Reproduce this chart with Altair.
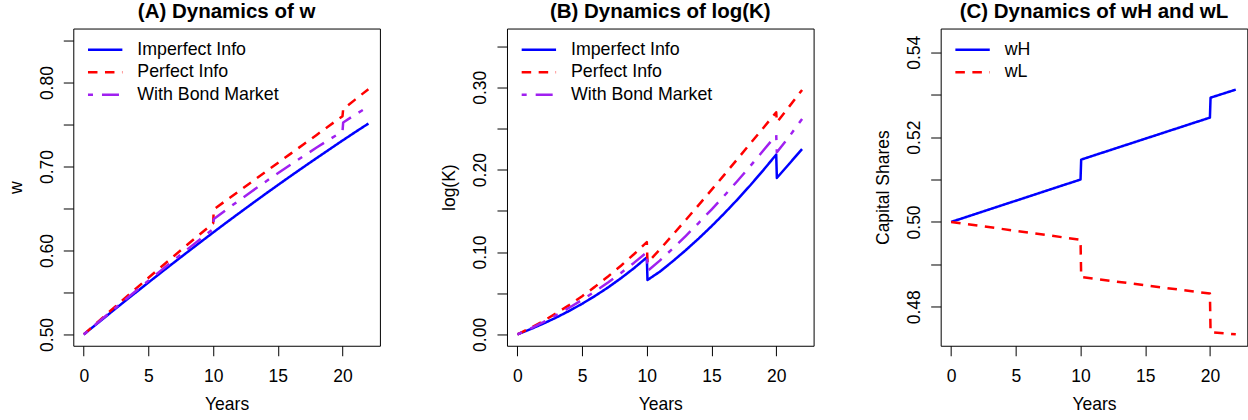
import altair as alt
import pandas as pd

FONT = "Liberation Sans, Arial, Helvetica, sans-serif"

# ---- Panel A: dynamics of w ----
YEARS = [0, 1, 2, 3, 4, 5, 6, 7, 8, 9, 10, 10.05, 11, 12, 13, 14, 15, 16, 17, 18, 19, 20, 20.05, 21, 22]

W_IMPERFECT = [0.5000, 0.5125, 0.5250, 0.5374, 0.5497, 0.5619, 0.5740, 0.5860, 0.5979, 0.6097,
               0.6214, 0.6220, 0.6330, 0.6444, 0.6557, 0.6669, 0.6779, 0.6888, 0.6995, 0.7101,
               0.7206, 0.7310, 0.7315, 0.7412, 0.7512]
W_PERFECT = [0.5000, 0.5137, 0.5273, 0.5408, 0.5542, 0.5675, 0.5807, 0.5938, 0.6068, 0.6196,
             0.6323, 0.6490, 0.6596, 0.6708, 0.6820, 0.6931, 0.7043, 0.7154, 0.7266, 0.7377,
             0.7489, 0.7600, 0.7685, 0.7800, 0.7922]
W_BOND = [0.5000, 0.5130, 0.5260, 0.5388, 0.5515, 0.5641, 0.5766, 0.5890, 0.6013, 0.6135,
          0.6255, 0.6375, 0.6484, 0.6596, 0.6706, 0.6814, 0.6920, 0.7024, 0.7126, 0.7226,
          0.7324, 0.7420, 0.7525, 0.7620, 0.7715]

# ---- Panel B: dynamics of log(K) ----
K_IMPERFECT = [0.0000, 0.0063, 0.0131, 0.0205, 0.0285, 0.0372, 0.0467, 0.0570, 0.0682, 0.0803,
               0.0935, 0.0660, 0.0761, 0.0887, 0.1021, 0.1163, 0.1313, 0.1471, 0.1637, 0.1811,
               0.1993, 0.2183, 0.1900, 0.2070, 0.2250]
K_PERFECT = [0.0000, 0.0077, 0.0163, 0.0256, 0.0356, 0.0464, 0.0580, 0.0703, 0.0834, 0.0973,
             0.1120, 0.0870, 0.1030, 0.1208, 0.1388, 0.1570, 0.1754, 0.1940, 0.2128, 0.2318,
             0.2506, 0.2696, 0.2575, 0.2765, 0.2968]
K_BOND = [0.0000, 0.0071, 0.0149, 0.0233, 0.0323, 0.0419, 0.0522, 0.0631, 0.0746, 0.0868,
          0.0996, 0.0770, 0.0896, 0.1042, 0.1194, 0.1352, 0.1516, 0.1686, 0.1862, 0.2044,
          0.2232, 0.2420, 0.2210, 0.2400, 0.2616]

# ---- Panel C: capital shares wH and wL ----
YEARS_C = [0, 10, 10.05, 20, 20.05, 22]
WH = [0.5000, 0.5100, 0.5147, 0.5246, 0.5293, 0.5312]
WL = [0.5000, 0.4958, 0.4870, 0.4831, 0.4740, 0.4735]

SERIES_AB = ["Imperfect Info", "Perfect Info", "With Bond Market"]
SERIES_C = ["wH", "wL"]

BLUE, RED, PURPLE = "#0000FF", "#FF0000", "#A020F0"
SOLID, DASHED, DOTDASH = [1, 0], [9.5, 7.5], [5, 9, 17, 9]

X_TICKS = [0, 5, 10, 15, 20]
X_DOMAIN = [-0.81, 22.89]

Y_TICKS_A = [0.50, 0.55, 0.60, 0.65, 0.70, 0.75, 0.80, 0.85]
Y_LABELS_A = ["0.50", "", "0.60", "", "0.70", "", "0.80", ""]
Y_TICKS_B = [0.00, 0.05, 0.10, 0.15, 0.20, 0.25, 0.30, 0.35]
Y_LABELS_B = ["0.00", "", "0.10", "", "0.20", "", "0.30", ""]
Y_TICKS_C = [0.48, 0.49, 0.50, 0.51, 0.52, 0.53, 0.54]
Y_LABELS_C = ["0.48", "", "0.50", "", "0.52", "", "0.54"]

W, H = 306.7, 317.3
AXIS_FS, LEGEND_FS, TITLE_FS = 17.5, 17.8, 20.5


def long_frame(years, columns):
    rows = []
    for name, values in columns:
        for t, v in zip(years, values):
            rows.append({"year": t, "value": v, "series": name})
    return pd.DataFrame(rows)


def js_key(t):
    # number -> the string JavaScript's toString() gives for it
    s = repr(float(t))
    return s[:-2] if s.endswith(".0") else s


def label_expr(ticks, labels):
    pairs = ", ".join(f"'{js_key(t)}': '{lab}'" for t, lab in zip(ticks, labels))
    return "{" + pairs + "}[toString(datum.value)] || ''"


def panel(df, title, ytitle, ydomain, yticks, ylabels, names, colors, dashes, widths):
    legend = alt.Legend(
        title=None, orient="none", legendX=23, legendY=12.4,
        symbolType="M-2.457,0H2.457", symbolSize=196,
        labelOffset=23.2, labelFontSize=LEGEND_FS, labelFont=FONT, labelColor="black",
        rowPadding=3.5, padding=0,
    )
    x_axis = alt.Axis(
        values=X_TICKS, title="Years", grid=False, domain=False,
        tickSize=10, tickColor="black", labelPadding=11.3, labelBaseline="top",
        labelFontSize=AXIS_FS, labelColor="black", labelFlush=False, labelOverlap=False,
        titleFontSize=AXIS_FS, titleFontWeight="normal", titleColor="black",
        titlePadding=11.1, titleBaseline="top", minExtent=38.8, maxExtent=38.8,
    )
    y_axis = alt.Axis(
        values=yticks, labelExpr=label_expr(yticks, ylabels), title=ytitle,
        grid=False, domain=False, tickSize=10, tickColor="black",
        labelAngle=270, labelAlign="center", labelBaseline="bottom", labelPadding=7,
        labelFontSize=AXIS_FS, labelColor="black", labelFlush=False, labelOverlap=False,
        titleFontSize=AXIS_FS, titleFontWeight="normal", titleColor="black",
        titleAngle=270, titleBaseline="bottom", titlePadding=13.7,
        minExtent=34.5, maxExtent=34.5,
    )
    return (
        alt.Chart(df)
        .mark_line(strokeCap="butt", strokeJoin="round", clip=True)
        .encode(
            x=alt.X("year:Q", scale=alt.Scale(domain=X_DOMAIN, nice=False, zero=False), axis=x_axis),
            y=alt.Y("value:Q", scale=alt.Scale(domain=ydomain, nice=False, zero=False), axis=y_axis),
            color=alt.Color("series:N", scale=alt.Scale(domain=names, range=colors), legend=legend),
            strokeDash=alt.StrokeDash("series:N", scale=alt.Scale(domain=names, range=dashes), legend=legend),
            strokeWidth=alt.StrokeWidth("series:N", scale=alt.Scale(domain=names, range=widths), legend=legend),
        )
        .properties(
            width=W, height=H,
            title=alt.TitleParams(title, fontSize=TITLE_FS, fontWeight="bold", font=FONT, color="black",
                                  anchor="middle", frame="group", baseline="alphabetic", offset=-10.3),
        )
    )


df_a = long_frame(YEARS, [(SERIES_AB[0], W_IMPERFECT), (SERIES_AB[1], W_PERFECT), (SERIES_AB[2], W_BOND)])
df_b = long_frame(YEARS, [(SERIES_AB[0], K_IMPERFECT), (SERIES_AB[1], K_PERFECT), (SERIES_AB[2], K_BOND)])
df_c = long_frame(YEARS_C, [(SERIES_C[0], WH), (SERIES_C[1], WL)])

chart_a = panel(df_a, "(A) Dynamics of w", "w", [0.4865, 0.8644], Y_TICKS_A, Y_LABELS_A,
                SERIES_AB, [BLUE, RED, PURPLE], [SOLID, DASHED, DOTDASH], [2.5, 2.5, 4])
chart_b = panel(df_b, "(B) Dynamics of log(K)", "log(K)", [-0.0138, 0.3713], Y_TICKS_B, Y_LABELS_B,
                SERIES_AB, [BLUE, RED, PURPLE], [SOLID, DASHED, DOTDASH], [2.5, 2.5, 4])
chart_c = panel(df_c, "(C) Dynamics of wH and wL", "Capital Shares", [0.4708, 0.5456], Y_TICKS_C, Y_LABELS_C,
                SERIES_C, [BLUE, RED], [SOLID, DASHED], [2.5, 2.5])

chart = (
    alt.hconcat(chart_a, chart_b, chart_c, spacing=58.8)
    .resolve_scale(x="independent", y="independent", color="independent",
                   strokeDash="independent", strokeWidth="independent")
    .resolve_legend(color="independent", strokeDash="independent", strokeWidth="independent")
    .properties(padding={"left": 6.3, "top": 1.5, "right": 0, "bottom": 0}, background="white")
    .configure(font=FONT)
    .configure_view(stroke="black", strokeWidth=1)
)

chart.save("out.html", embed_options={"renderer": "svg", "actions": False})
